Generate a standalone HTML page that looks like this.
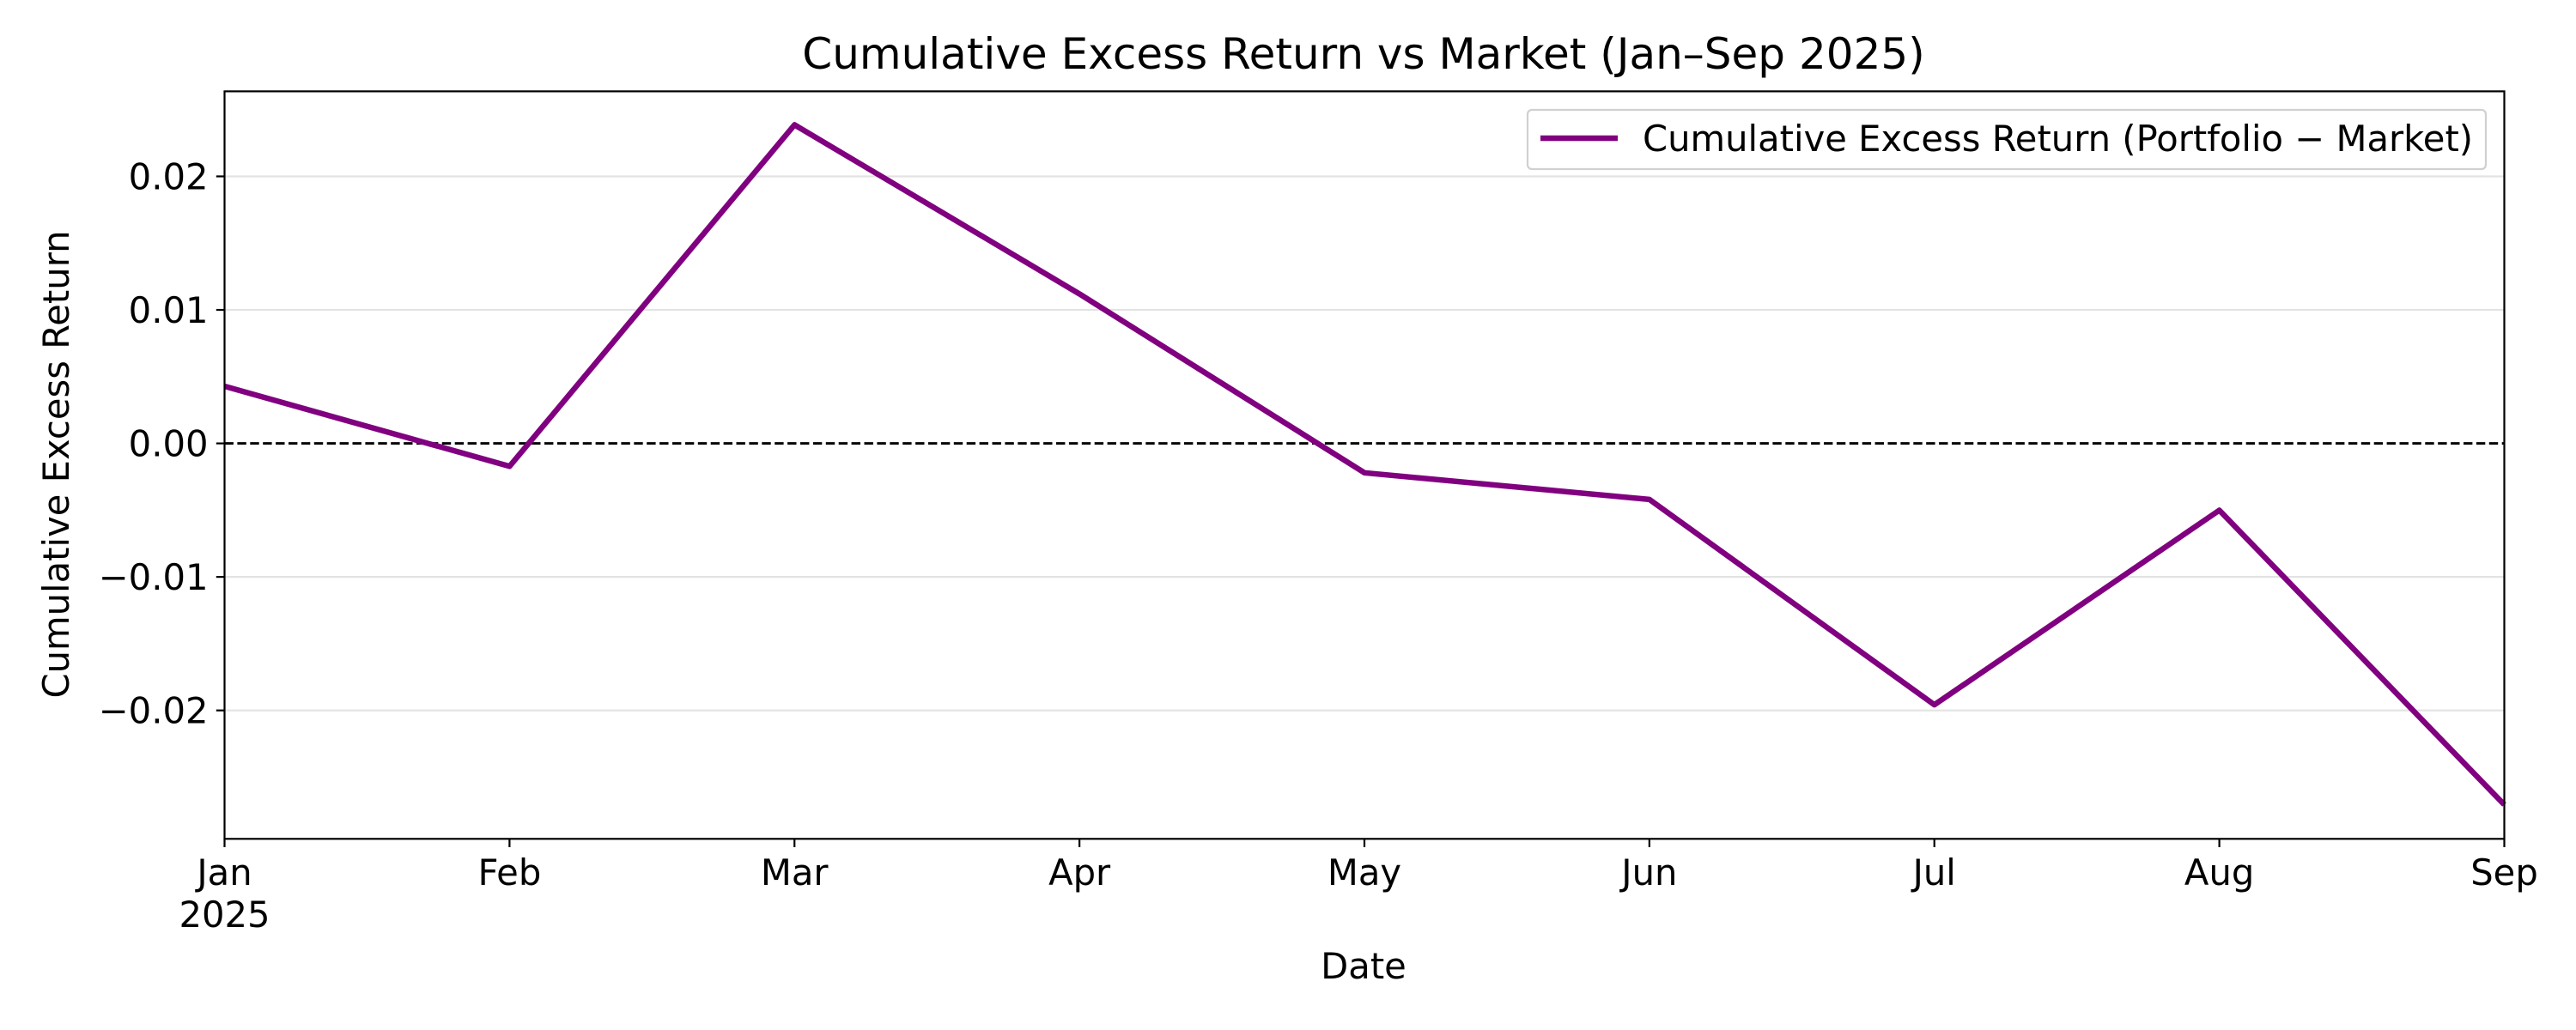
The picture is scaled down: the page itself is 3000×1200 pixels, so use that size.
<!DOCTYPE html>
<html><head><meta charset="utf-8"><style>
html,body{margin:0;padding:0;background:#fff;}
svg{display:block;font-family:"DejaVu Sans","Liberation Sans",sans-serif;}
</style></head><body>
<svg id="chart" width="3000" height="1200" viewBox="0 0 3000 1200">
<rect width="3000" height="1200" fill="#fff"/>
<text x="1588" y="80" font-size="50" text-anchor="middle" fill="#000">Cumulative Excess Return vs Market (Jan–Sep 2025)</text>
<g id="grid"></g>
<line id="zero-line" stroke="#000" stroke-width="2.8" stroke-dasharray="10.4,4.5"/>
<g id="series"></g>
<rect x="261.5" y="106.4" width="2655" height="870.9" fill="none" stroke="#000" stroke-width="2.2"/>
<g id="yticks"></g>
<g id="xticks"></g>
<text x="1588" y="1140" font-size="41.7" text-anchor="middle">Date</text>
<text transform="translate(80,541) rotate(-90)" font-size="41.7" text-anchor="middle">Cumulative Excess Return</text>
<g>
<rect x="1779" y="128" width="1116" height="69" rx="5" fill="#fff" fill-opacity="0.8" stroke="#d0d0d0" stroke-width="2.2"/>
<line x1="1794" y1="161" x2="1884" y2="161" stroke="#800080" stroke-width="6.5"/>
<text x="1913" y="176" font-size="41.7">Cumulative Excess Return (Portfolio − Market)</text>
</g>
</svg>
<script>
const months = ["Jan","Feb","Mar","Apr","May","Jun","Jul","Aug","Sep"];
const excessReturn = [0.00428,-0.00172,0.02386,0.0112,-0.0022,-0.0042,-0.01958,-0.00501,-0.02706];
const yTicks = [-0.02,-0.01,0.00,0.01,0.02];
const yTickLabels = ["−0.02","−0.01","0.00","0.01","0.02"];

const L=261.5,R=2916.5,T=106.4,B=977.3;
const yMin=-0.02962,yMax=0.02637;
const xS=i=>L+(i/(months.length-1))*(R-L);
const yS=v=>B-(v-yMin)/(yMax-yMin)*(B-T);
const NS="http://www.w3.org/2000/svg";
function mk(tag,attrs,parent){const e=document.createElementNS(NS,tag);for(const k in attrs)e.setAttribute(k,attrs[k]);parent.appendChild(e);return e;}

const grid=document.getElementById('grid'),yt=document.getElementById('yticks'),xt=document.getElementById('xticks');
yTicks.forEach((v,i)=>{
  const y=yS(v);
  if(v!==0){const g=mk('line',{x1:L,x2:R,y1:y,y2:y,stroke:'#e3e3e3','stroke-width':2.2},grid);
  
  }
  const t=mk('line',{x1:L-9.7,x2:L,y1:y,y2:y,stroke:'#000','stroke-width':2.2},yt);
  
  
  const tx=mk('text',{x:L-19,y:y+15,'font-size':41.7,'text-anchor':'end'},yt);
  tx.textContent=yTickLabels[i];
  
  
});
const z=document.getElementById('zero-line');
z.setAttribute('x1',L);z.setAttribute('x2',R);z.setAttribute('y1',yS(0));z.setAttribute('y2',yS(0));

months.forEach((m,i)=>{
  const x=xS(i);
  const t=mk('line',{x1:x,x2:x,y1:B,y2:B+9.7,stroke:'#000','stroke-width':2.2},xt);
  
  
  const tx=mk('text',{x:x,y:1031,'font-size':41.7,'text-anchor':'middle'},xt);
  tx.textContent=m;
  
  
  if(i===0){const y2=mk('text',{x:x,y:1080,'font-size':41.7,'text-anchor':'middle'},xt);
  y2.textContent='2025';
  
  }
});
const pts=excessReturn.map((v,i)=>xS(i).toFixed(1)+','+yS(v).toFixed(1)).join(' ');
const pl=mk('polyline',{points:pts,fill:'none',stroke:'#800080','stroke-width':6.5,'stroke-linejoin':'round'},document.getElementById('series'));


</script>
</body></html>
